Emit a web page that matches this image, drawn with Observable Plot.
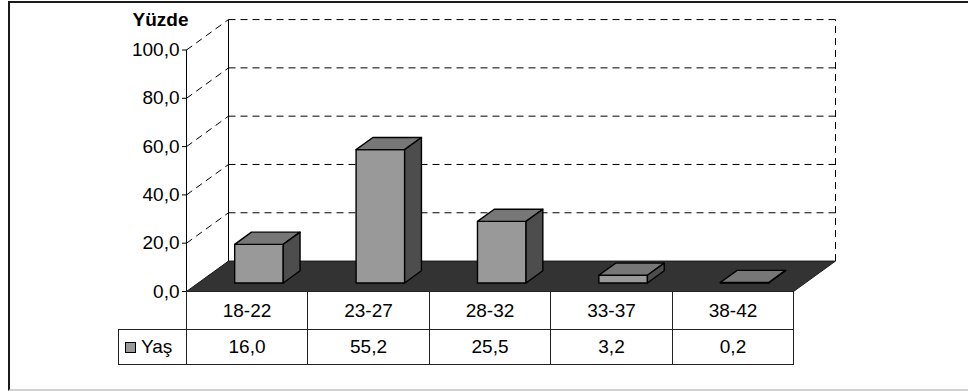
<!DOCTYPE html>
<html>
<head>
<meta charset="utf-8">
<script src="https://cdn.jsdelivr.net/npm/d3@7"></script>
<script src="https://cdn.jsdelivr.net/npm/@observablehq/plot@0.6"></script>
<style>
  html, body { margin: 0; padding: 0; background: #fff; }
  body { width: 968px; height: 391px; overflow: hidden; position: relative;
         font-family: "Liberation Sans", Arial, sans-serif; }
  #frame { position: absolute; left: 8px; top: 1px; width: 990px; height: 386px;
           border-left: 2px solid #1a1a1a; border-top: 2px solid #1a1a1a;
           border-bottom: 2px solid #d0d0d0; }
  #chart { position: absolute; left: 0; top: 0; }
  .cell { position: absolute; box-sizing: border-box; border: 1px solid #222;
          display: flex; align-items: center; justify-content: center;
          font-size: 19px; color: #000; background: #fff; }
  .cell.legend { justify-content: flex-start; padding-left: 6px; }
  .swatch { display: inline-block; width: 11px; height: 11px; box-sizing: border-box;
            border: 1px solid #000; background: #999; margin-right: 5px; }
</style>
</head>
<body>
<div id="frame"></div>
<div id="chart"></div>
<script>
// Age groups and share of respondents (%)
const categories = ["18-22", "23-27", "28-32", "33-37", "38-42"];
const values = [16.0, 55.2, 25.5, 3.2, 0.2];
const seriesName = "Yaş";
const yTitle = "Yüzde";
const yTicks = [0, 20, 40, 60, 80, 100];

// Oblique depth of the 3-D box, in data units (columns / percent)
const KX = 0.346, KY = 12.6;
// Bar depth span (0 = front of floor, 1 = back wall) and bar width in columns
const ZF = 0.28, ZB = 0.68, BW = 0.40;

const fmt = v => v.toFixed(1).replace(".", ",");
const n = categories.length;

// Project a point (column position, value, depth) onto the 2-D scales
const P = (c, v, z) => ({x: c + z * KX, y: v + z * KY});

// Bar faces as closed polygons
const frontFaces = [], topFaces = [], sideFaces = [];
values.forEach((v, i) => {
  const l = i + 0.5 - BW / 2, r = i + 0.5 + BW / 2;
  const k = categories[i];
  [P(l, 0, ZF), P(r, 0, ZF), P(r, v, ZF), P(l, v, ZF), P(l, 0, ZF)]
    .forEach(p => frontFaces.push({...p, k}));
  [P(l, v, ZF), P(r, v, ZF), P(r, v, ZB), P(l, v, ZB), P(l, v, ZF)]
    .forEach(p => topFaces.push({...p, k}));
  [P(r, 0, ZF), P(r, 0, ZB), P(r, v, ZB), P(r, v, ZF), P(r, 0, ZF)]
    .forEach(p => sideFaces.push({...p, k}));
});

const floor = [P(0, 0, 0), P(0, 0, 1), P(n, 0, 1), P(n, 0, 0), P(0, 0, 0)];
const grid = yTicks.filter(v => v > 0);
const dash = "7,5";

const chart = Plot.plot({
  width: 968,
  height: 300,
  marginLeft: 186,
  marginTop: 0,
  marginRight: 0,
  marginBottom: 0,
  style: {fontFamily: "'Liberation Sans', Arial, sans-serif", background: "transparent", overflow: "visible"},
  x: {domain: [0, n], range: [186, 793], axis: null},
  y: {domain: [0, 100], range: [291, 49.5]},
  marks: [
    // side wall diagonals and back wall gridlines
    Plot.link(grid, {x1: () => 0, y1: v => v, x2: () => KX, y2: v => v + KY,
      stroke: "#000", strokeWidth: 1, strokeDasharray: dash}),
    Plot.link(grid, {x1: () => KX, x2: () => n + KX, y1: v => v + KY, y2: v => v + KY,
      stroke: "#000", strokeWidth: 1, strokeDasharray: dash}),
    Plot.link([0], {x1: () => KX, x2: () => KX, y1: () => KY, y2: () => 100 + KY,
      stroke: "#000", strokeWidth: 1}),
    Plot.link([0], {x1: () => n + KX, x2: () => n + KX, y1: () => KY, y2: () => 100 + KY,
      stroke: "#000", strokeWidth: 1, strokeDasharray: dash}),
    // floor
    Plot.line(floor, {x: "x", y: "y", fill: "#333333", stroke: "#1a1a1a", strokeWidth: 1}),
    // bars
    Plot.line(frontFaces, {x: "x", y: "y", z: "k", fill: "#999999", stroke: "#000", strokeWidth: 1.4}),
    Plot.line(topFaces, {x: "x", y: "y", z: "k", fill: "#777777", stroke: "#000", strokeWidth: 1.4}),
    Plot.line(sideFaces, {x: "x", y: "y", z: "k", fill: "#4d4d4d", stroke: "#000", strokeWidth: 1.4}),
    // value axis
    Plot.ruleX([0], {y1: 0, y2: 100, stroke: "#000", strokeWidth: 1}),
    Plot.axisY(yTicks, {anchor: "left", tickSize: 4, tickPadding: 3, tickFormat: fmt,
      fontSize: 19, color: "#000", label: null}),
    Plot.text([yTitle], {frameAnchor: "top-left", textAnchor: "middle", lineAnchor: "bottom",
      dx: -26, dy: 25, fontSize: 19, fontWeight: "bold", fill: "#000"})
  ]
});
document.getElementById("chart").appendChild(chart);

// Data table under the plot, aligned to the x scale
const sx = chart.scale("x"), sy = chart.scale("y");
const row1Top = Math.round(sy.apply(0)), row1H = 39, row2H = 36;
const row2Top = row1Top + row1H - 1;
function cell(left, right, topY, h, html, cls) {
  const d = document.createElement("div");
  d.className = "cell" + (cls ? " " + cls : "");
  d.style.left = left + "px";
  d.style.top = topY + "px";
  d.style.width = (right - left + 1) + "px";
  d.style.height = h + "px";
  d.innerHTML = html;
  document.body.appendChild(d);
}
categories.forEach((c, i) => {
  const l = Math.round(sx.apply(i)), r = Math.round(sx.apply(i + 1));
  cell(l, r, row1Top, row1H, c);
  cell(l, r, row2Top, row2H, fmt(values[i]));
});
const x0 = Math.round(sx.apply(0));
cell(118, x0, row2Top, row2H, '<span class="swatch"></span>' + seriesName, "legend");
</script>
</body>
</html>
